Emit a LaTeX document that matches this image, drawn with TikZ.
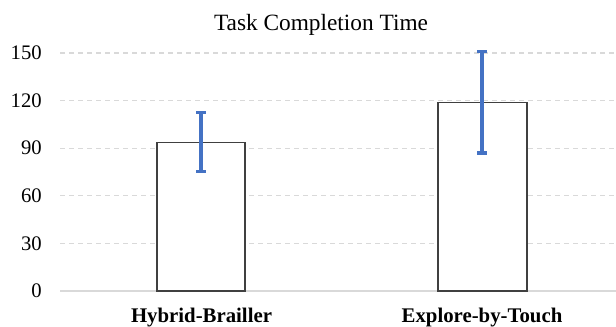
\documentclass[tikz,border=0pt]{standalone}
\usepackage{fontspec}
\setmainfont{Liberation Serif}
\definecolor{errblue}{RGB}{68,114,196}
\definecolor{gridgray}{RGB}{217,217,217}
\begin{document}
\begin{tikzpicture}
[x=0.75pt,y=0.75pt,
  gridline/.style={draw=gridgray,line width=0.9pt,dash pattern=on 3.75pt off 3pt},
  axisline/.style={draw=gridgray,line width=1pt},
  bardecorate/.style={draw=black!75,fill=white,line width=0.9pt},
  errdecorate/.style={draw=errblue,line width=2.4pt},
  ticklabel/.style={anchor=east,inner sep=0pt,font=\fontsize{15.5}{18}\selectfont},
  catlabel/.style={anchor=base,inner sep=0pt,font=\fontsize{15.6}{18}\bfseries\selectfont}]
\useasboundingbox (0,0) rectangle (616,326);
% title
\node[anchor=base,inner sep=0pt] (title) at (321,296)
  {\fontsize{17.5}{20}\selectfont Task Completion Time};
\begin{scope}[y=1.19pt,yshift=26.25pt]
% grid and tick labels
\foreach \v in {30,60,...,150}{
  \draw[gridline] (60,\v) -- (616,\v);
}
\draw[axisline] (60,0) -- (616,0);
\foreach \v in {0,30,...,150}{
  \node[ticklabel] (t\v) at (42,\v) {\v};
}
% bars
\draw[bardecorate] (157,0) rectangle (245,93.7);
\draw[bardecorate] (438,0) rectangle (527,118.6);
% error bars
\coordinate (e1lo) at (201,75.2);
\coordinate (e1hi) at (201,112.4);
\coordinate (e2lo) at (482,87);
\coordinate (e2hi) at (482,151);
\foreach \e in {e1,e2}{
  \draw[errdecorate] (\e lo) -- (\e hi);
  \draw[errdecorate] ([xshift=-3.5pt]\e lo) -- ([xshift=3.5pt]\e lo);
  \draw[errdecorate] ([xshift=-3.5pt]\e hi) -- ([xshift=3.5pt]\e hi);
}
\end{scope}
% category labels
\node[catlabel] (c1) at (201.5,4) {Hybrid-Brailler};
\node[catlabel] (c2) at (482,4) {Explore-by-Touch};
\end{tikzpicture}
\end{document}
